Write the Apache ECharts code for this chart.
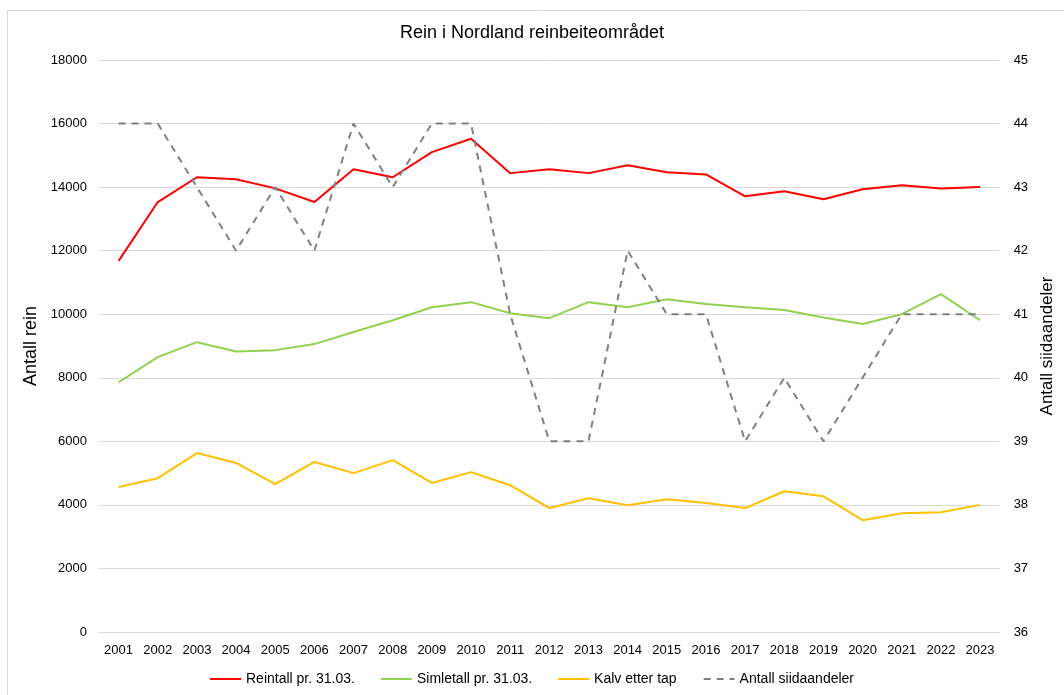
<!DOCTYPE html>
<html><head><meta charset="utf-8">
<script src="https://cdn.jsdelivr.net/npm/echarts@6/dist/echarts.min.js"></script>
<style>html,body{margin:0;padding:0;background:#fff}#c{width:1064px;height:695px}</style>
</head><body><div id="c"></div>
<script>
const years = ['2001','2002','2003','2004','2005','2006','2007','2008','2009','2010','2011','2012','2013','2014','2015','2016','2017','2018','2019','2020','2021','2022','2023'];
const reintall = [11680,13530,14310,14250,13960,13530,14560,14310,15100,15520,14440,14560,14440,14690,14470,14400,13710,13870,13620,13930,14060,13960,14000];
const simletall = [7860,8650,9120,8830,8870,9060,9440,9810,10220,10380,10030,9875,10380,10220,10470,10320,10220,10130,9900,9690,10000,10630,9810];
const kalv = [4560,4840,5630,5320,4650,5350,5000,5410,4690,5030,4620,3900,4210,3990,4180,4060,3900,4430,4270,3520,3740,3770,4000];
const siida = [44,44,43,42,43,42,44,43,44,44,41,39,39,42,41,41,39,40,39,40,41,41,41];

const FONT = '"Liberation Sans", "DejaVu Sans", sans-serif';
const chart = echarts.init(document.getElementById('c'), null, {renderer:'canvas'});
chart.setOption({
  animation:false,
  textStyle:{fontFamily:FONT},
  graphic:[{type:'rect',shape:{x:7.5,y:10.5,width:1070,height:700},style:{fill:'none',stroke:'#d9d9d9',lineWidth:1},silent:true,z:-1}],
  title:{text:'Rein i Nordland reinbeiteområdet',left:'center',top:19,textStyle:{fontSize:18,fontWeight:'normal',color:'#000',fontFamily:FONT}},
  legend:{top:667,left:'center',itemWidth:31,itemHeight:2,itemGap:26,textStyle:{fontSize:14,color:'#000',fontFamily:FONT},
    data:[{name:'Reintall pr. 31.03.',icon:'rect'},{name:'Simletall pr. 31.03.',icon:'rect'},{name:'Kalv etter tap',icon:'rect'},{name:'Antall siidaandeler'}]},
  grid:{left:99,right:61,top:60,bottom:63,containLabel:false},
  xAxis:{type:'category',data:years,boundaryGap:true,
    axisLine:{show:false},axisTick:{show:false},
    axisLabel:{fontSize:13,color:'#000',margin:12,interval:0}},
  yAxis:[
    {type:'value',min:0,max:18000,interval:2000,name:'Antall rein',nameLocation:'middle',nameGap:47,
     nameTextStyle:{fontSize:18,color:'#000'},
     axisLabel:{fontSize:13,color:'#000',margin:12,formatter:v=>String(v)},
     splitLine:{lineStyle:{color:'#d9d9d9',width:1}},axisLine:{show:false},axisTick:{show:false}},
    {type:'value',min:36,max:45,interval:1,name:'Antall siidaandeler',nameLocation:'middle',nameGap:38,
     nameTextStyle:{fontSize:17,color:'#000'},
     axisLabel:{fontSize:13,color:'#000',margin:14,formatter:v=>String(v)},
     splitLine:{show:false},axisLine:{show:false},axisTick:{show:false}}
  ],
  series:[
    {name:'Reintall pr. 31.03.',type:'line',data:reintall,yAxisIndex:0,symbol:'none',color:'#ff0000',lineStyle:{width:2,color:'#ff0000'}},
    {name:'Simletall pr. 31.03.',type:'line',data:simletall,yAxisIndex:0,symbol:'none',color:'#92d050',lineStyle:{width:2,color:'#92d050'}},
    {name:'Kalv etter tap',type:'line',data:kalv,yAxisIndex:0,symbol:'none',color:'#ffc000',lineStyle:{width:2,color:'#ffc000'}},
    {name:'Antall siidaandeler',type:'line',data:siida,yAxisIndex:1,symbol:'none',color:'#808080',lineStyle:{width:2,color:'#808080',type:[7,6]}}
  ]
});
</script></body></html>
